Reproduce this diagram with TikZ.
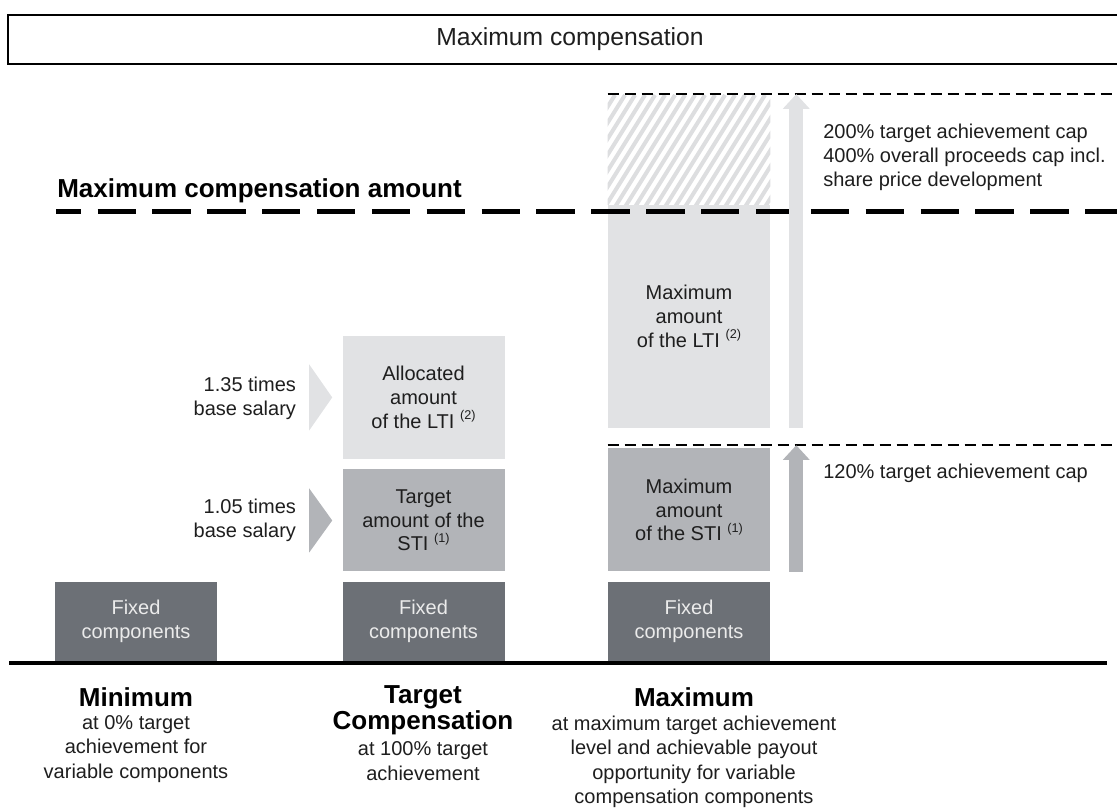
\documentclass[tikz,border=0pt]{standalone}
\usepackage{fontspec}
\setmainfont{Liberation Sans}
\usetikzlibrary{arrows.meta,positioning,calc}

\definecolor{ltigray}{HTML}{E1E2E4}
\definecolor{stigray}{HTML}{B2B4B8}
\definecolor{fixgray}{HTML}{6C7076}
\definecolor{fixtext}{HTML}{EBEBEB}
\definecolor{inktext}{HTML}{1E1E1E}
\definecolor{stripegray}{HTML}{DDDEE0}

\newcommand\fnref[1]{\raisebox{0.42em}{\fontsize{9.5}{9.5}\selectfont(#1)}}

\tikzset{
  bar/.style={rectangle, inner sep=0pt, minimum width=121.5pt, align=center,
    text=inktext, font=\fontsize{15}{17.8}\selectfont},
  fixbar/.style={bar, fill=fixgray, text=fixtext, minimum height=59.25pt},
  stibar/.style={bar, fill=stigray},
  ltibar/.style={bar, fill=ltigray},
  sidelabel/.style={anchor=east, align=right, inner sep=0pt, text=inktext,
    font=\fontsize{15}{18}\selectfont},
  notelabel/.style={anchor=west, align=left, inner sep=0pt, text=inktext,
    font=\fontsize{15}{18}\selectfont},
  headlabel/.style={align=center, inner sep=0pt, text=black,
    font=\fontsize{19.5}{19.5}\bfseries},
  desclabel/.style={align=center, inner sep=0pt, text=inktext,
    font=\fontsize{15}{18.4}\selectfont},
  capdash/.style={line width=3.75pt, dash pattern=on 28.75pt off 12.4pt, dash phase=10pt},
  limitdash/.style={line width=1.9pt, dash pattern=on 8.25pt off 4.5pt},
  stripe/.style={stripegray, line width=3pt},
  risearrow/.style={line width=10.5pt, -{Triangle[width=19.5pt,length=11pt]}}
}

\begin{document}
\begin{tikzpicture}[x=0.75pt, y=-0.75pt]
\useasboundingbox (0,0) rectangle (1117,807);

\node[draw, line width=1.6pt, minimum width=843pt, minimum height=36.75pt,
  font=\fontsize{18.5}{18.5}\selectfont, text=inktext] (title) at (570,39.5) {Maximum compensation};

\node[anchor=base west, inner sep=0pt, font=\fontsize{19.5}{19.5}\bfseries] (capname) at (57,197) {Maximum compensation amount};

% minimum
\node[fixbar] (fixmin) at (136,621.5) {Fixed\\components};

% target
\node[fixbar] (fixtgt) at (423.5,621.5) {Fixed\\components};
\node[stibar, minimum height=76.5pt, above=7.5pt of fixtgt] (stitgt) {Target\\amount of the\\STI \fnref{1}};
\node[ltibar, minimum height=92.25pt, above=7.5pt of stitgt] (ltitgt) {Allocated\\amount\\of the LTI \fnref{2}};

% maximum
\node[fixbar] (fixmax) at (689,621.5) {Fixed\\components};
\node[stibar, minimum height=92.25pt, above=7.5pt of fixmax] (stimax) {Maximum\\amount\\of the STI \fnref{1}};
\node[ltibar, minimum height=167.25pt, above=15pt of stimax] (ltimax) {Maximum\\amount\\of the LTI \fnref{2}};
\node[bar, minimum height=82.5pt, above=0pt of ltimax] (hatchmax) {};

\begin{scope}
  \clip (hatchmax.south west) rectangle (hatchmax.north east);
  \foreach \s in {0,...,24}
    \draw[stripe] (530+\s*10,215) -- ++(75,-120);
\end{scope}

\draw[capdash] (56,211) -- (1125,211);
\draw[limitdash] (hatchmax.north west) -- ++(530,0);
\draw[limitdash] ($(stimax.north west)+(0,-3)$) -- ++(530,0);

\coordinate (ltiarrowbot) at ($(ltimax.south east)+(26,0)$);
\coordinate (ltiarrowtop) at ($(hatchmax.north east)+(26,0)$);
\coordinate (stiarrowbot) at ($(stimax.south east)+(26,0)$);
\coordinate (stiarrowtop) at ($(stimax.north east)+(26,-3)$);
\draw[risearrow, ltigray] (ltiarrowbot) -- (ltiarrowtop);
\draw[risearrow, stigray] (stiarrowbot) -- (stiarrowtop);

% chevrons and side labels
\fill[ltigray] ($(ltitgt.west)+(-33,-33)$) -- ($(ltitgt.west)+(-10,0)$) -- ($(ltitgt.west)+(-33,33)$) -- cycle;
\fill[stigray] ($(stitgt.west)+(-33,-32)$) -- ($(stitgt.west)+(-10,0)$) -- ($(stitgt.west)+(-33,32)$) -- cycle;
\node[sidelabel] (ltifactor) at ($(ltitgt.west)+(-46,1)$) {1.35 times\\base salary};
\node[sidelabel] (stifactor) at ($(stitgt.west)+(-46,0)$) {1.05 times\\base salary};

\node[notelabel] (ltinote) at (823,157) {200\% target achievement cap\\400\% overall proceeds cap incl.\\share price development};
\node[notelabel] (stinote) at (823,473) {120\% target achievement cap};

\draw[line width=3.6pt] (9,663) -- (1107,663);

% bottom captions
\node[headlabel] (minhead) at (136,697) {Minimum};
\node[desclabel] (mindesc) at (136,749) {at 0\% target\\achievement for\\variable components};
\node[headlabel] (tgthead) at (423,710) {Target\\Compensation};
\node[desclabel] (tgtdesc) at (423,761) {at 100\% target\\achievement};
\node[headlabel] (maxhead) at (694,697) {Maximum};
\node[desclabel] (maxdesc) at (694,762) {at maximum target achievement\\level and achievable payout\\opportunity for variable\\compensation components};
\end{tikzpicture}
\end{document}
